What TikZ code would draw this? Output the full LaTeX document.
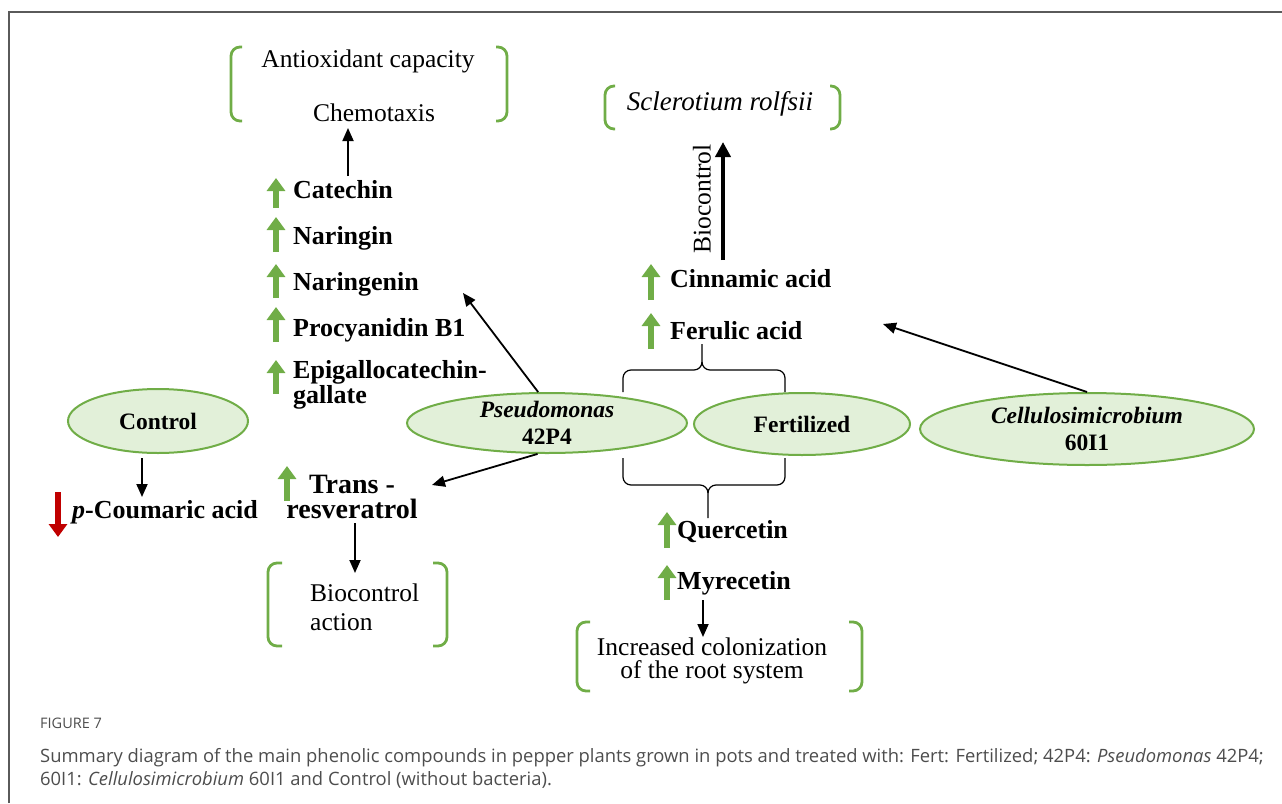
\documentclass[tikz,border=0pt]{standalone}
\usepackage{fontspec}
\setmainfont{Liberation Serif}
\newfontfamily\capfont{Open Sans}
\usetikzlibrary{arrows.meta,shapes.geometric}
\definecolor{gr}{HTML}{70AD47}
\definecolor{gfill}{HTML}{E2F0D9}
\definecolor{rd}{HTML}{C00000}
\definecolor{framegrey}{HTML}{5A5A5A}
\definecolor{capgrey}{HTML}{4D4D4D}
\begin{document}
\begin{tikzpicture}[x=1pt,y=-1pt,
  rt/.style={inner sep=0pt,font=\fontsize{25.5}{29}\selectfont},
  bt/.style={inner sep=0pt,anchor=west,font=\fontsize{26}{28}\selectfont\bfseries},
  ell/.style={ellipse,draw=gr,fill=gfill,line width=2pt,inner sep=0pt},
  lbl/.style={inner sep=0pt,align=center,font=\fontsize{23.5}{27}\selectfont\bfseries},
  blk/.style={line width=1.8pt,-{Triangle[length=13pt,width=11pt]}},
  bigarr/.style={line width=4.5pt,-{Triangle[length=15pt,width=15pt]}},
  uparr/.style={draw=gr,line width=6.5pt,-{Triangle[length=13pt,width=18pt]}},
  dnarr/.style={draw=rd,line width=6.5pt,-{Triangle[length=13pt,width=18pt]}},
  brk/.style={draw=gr,line width=2.8pt,rounded corners=9pt},
  brace/.style={line width=1.2pt},
]
\useasboundingbox (0,0) rectangle (1282,803);
% frame
\draw[framegrey,line width=2pt] (9,803) -- (9,12) -- (1282,12);

% text nodes (top)
\node[rt] (anti) at (368,61) {Antioxidant capacity};
\node[rt] (chemo) at (374,113) {Chemotaxis};
\node[rt,font=\fontsize{27}{29}\selectfont\itshape] (scl) at (720,104) {Sclerotium rolfsii};
\node[rt,rotate=90] (bclab) at (702,199) {Biocontrol};

% compounds
\node[bt] (cat) at (293,190) {Catechin};
\node[bt] (nar) at (293,238) {Naringin};
\node[bt] (nare) at (293,284) {Naringenin};
\node[bt] (pro) at (293,330) {Procyanidin B1};
\node[bt,align=left,font=\fontsize{26}{19}\selectfont\bfseries] (epi) at (293,385) {Epigallocatechin-\\gallate};
\node[bt] (cin) at (670,279) {Cinnamic acid};
\node[bt] (fer) at (670,331) {Ferulic acid};
\node[bt] (que) at (677,532) {Quercetin};
\node[bt] (myr) at (677,583) {Myrecetin};
\node[bt] (cou) at (72,512) {\textit{p}-Coumaric acid};
\node[inner sep=0pt,align=center,font=\fontsize{28}{25}\selectfont\bfseries] (trans) at (352,497) {Trans -\\resveratrol};

% effect texts
\node[rt,anchor=west,align=left] (bca) at (310,607) {Biocontrol\\action};
\node[rt,align=center,font=\fontsize{25.5}{23}\selectfont] (inc) at (712,661) {Increased colonization\\of the root system};

% ellipses
\node[ell,minimum width=180pt,minimum height=64pt,label={[lbl]center:Control}] (ctrl) at (158,421) {};
\node[ell,minimum width=280pt,minimum height=60pt,label={[lbl]center:{\textit{Pseudomonas}\\42P4}}] (pseudo) at (547,423) {};
\node[ell,minimum width=216pt,minimum height=62pt,label={[lbl]center:Fertilized}] (fert) at (802,424) {};
\node[ell,minimum width=334pt,minimum height=72pt,label={[lbl]center:{\textit{Cellulosimicrobium}\\60I1}}] (cell) at (1087,429) {};

% brackets
\draw[brk] (242,47) -- (231,47) -- (231,121) -- (242,121);
\draw[brk] (496,47) -- (507,47) -- (507,121) -- (496,121);
\draw[brk] (615,86) -- (605,86) -- (605,129) -- (615,129);
\draw[brk] (830,86) -- (840,86) -- (840,129) -- (830,129);
\draw[brk] (282,563) -- (268,563) -- (268,646) -- (282,646);
\draw[brk] (433,563) -- (447,563) -- (447,646) -- (433,646);
\draw[brk] (590,622) -- (577,622) -- (577,691) -- (590,691);
\draw[brk] (849,622) -- (862,622) -- (862,691) -- (849,691);

% curly braces
\draw[brace] (623,392) -- (623,378) to[out=90,in=180] (631,370) -- (694,370) to[out=0,in=-90] (702,362) -- (702,344);
\draw[brace] (702,362) to[out=-90,in=180] (710,370) -- (777,370) to[out=0,in=90] (785,378) -- (785,392);
\draw[brace] (623,458) -- (623,477) to[out=-90,in=180] (631,485) -- (700,485) to[out=0,in=90] (708,493) -- (708,518);
\draw[brace] (708,493) to[out=90,in=180] (716,485) -- (777,485) to[out=0,in=-90] (785,477) -- (785,458);

% green / red markers
\draw[uparr] (276,208) -- (276,178);
\draw[uparr] (276,252) -- (276,217);
\draw[uparr] (276,298) -- (276,264);
\draw[uparr] (276,342) -- (276,307);
\draw[uparr] (276,394) -- (276,360);
\draw[uparr] (651,300) -- (651,264);
\draw[uparr] (651,349) -- (651,313);
\draw[uparr] (287,501) -- (287,466);
\draw[uparr] (667,548) -- (667,512);
\draw[uparr] (667,600) -- (667,565);
\draw[dnarr] (58,492) -- (58,537);

% connector end points
\coordinate (chtail) at (348,176);
\coordinate (chtip) at (348,128);
\coordinate (nartip) at (463,293);
\coordinate (trtip) at (432,485);
\coordinate (fertip) at (883,324);
\coordinate (cctip) at (142,497);
\coordinate (bcttip) at (355,573);
\coordinate (inctip) at (703,637);
\coordinate (myrtail) at (703,600);
\coordinate (bctail) at (723,260);
\coordinate (bchead) at (723,142);

% connectors
\draw[blk] (chtail) -- (chtip);
\draw[blk] (pseudo.106) -- (nartip);
\draw[blk] (pseudo.-107) -- (trtip);
\draw[blk] (cell.north) -- (fertip);
\draw[blk,shorten <=4pt] (ctrl.south -| cctip) -- (cctip);
\draw[blk,shorten <=4pt] (trans.south -| bcttip) -- (bcttip);
\draw[blk] (myrtail) -- (inctip);
\draw[bigarr] (bctail) -- (bchead);

% caption
\node[anchor=west,inner sep=0pt,text=capgrey,font=\capfont\fontsize{14.5}{16}\selectfont] (fig) at (40,723) {FIGURE 7};
\node[anchor=north west,inner sep=0pt,align=left,text=capgrey,font=\capfont\fontsize{18.4}{23.5}\selectfont] (cap) at (40,748) {Summary diagram of the main phenolic compounds in pepper plants grown in pots and treated with: Fert: Fertilized; 42P4: \textit{Pseudomonas} 42P4;\\60I1: \textit{Cellulosimicrobium} 60I1 and Control (without bacteria).};
\end{tikzpicture}
\end{document}
